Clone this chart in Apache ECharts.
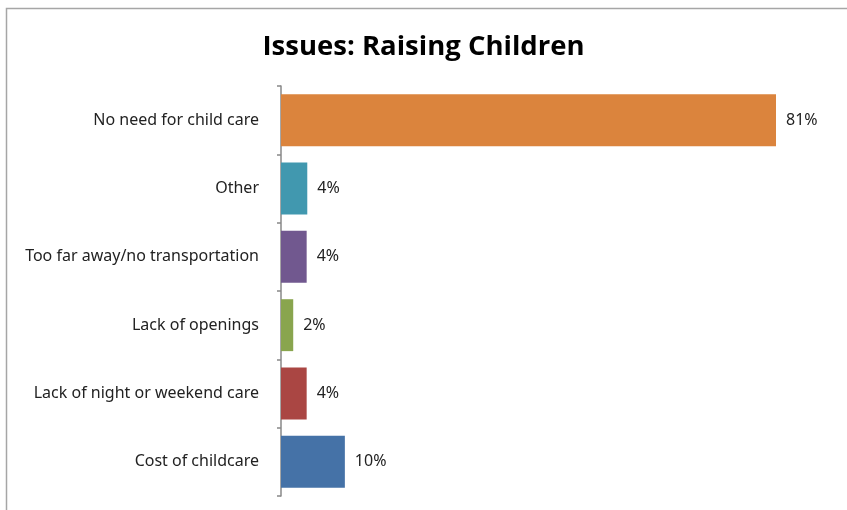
<!DOCTYPE html>
<html>
<head>
<meta charset="utf-8">
<script src="https://cdn.jsdelivr.net/npm/echarts@6/dist/echarts.min.js"></script>
<style>
  html, body { margin: 0; padding: 0; background: #fff; }
  #chart { width: 847px; height: 510px; }
</style>
</head>
<body>
<div id="chart"></div>
<script>
// categories bottom to top
var categories = [
  'Cost of childcare',
  'Lack of night or weekend care',
  'Lack of openings',
  'Too far away/no transportation',
  'Other',
  'No need for child care'
];
var values = [10.45, 4.2, 2.0, 4.2, 4.3, 81.0];
var barColors = ['#4572A7', '#AA4643', '#89A54E', '#71588F', '#4198AF', '#DB843D'];

var chart = echarts.init(document.getElementById('chart'));

chart.setOption({
  animation: false,
  backgroundColor: '#fff',
  title: {
    text: 'Issues: Raising Children',
    left: 'center',
    top: 28,
    textStyle: {
      fontFamily: 'Open Sans',
      fontWeight: 'bold',
      fontSize: 27.5,
      color: '#000'
    }
  },
  graphic: [{
    type: 'rect',
    shape: { x: 6.5, y: 8.5, width: 900, height: 600 },
    style: { fill: 'none', stroke: '#a6a6a6', lineWidth: 1.5 },
    silent: true
  }],
  grid: { left: 281, top: 86, bottom: 14, right: 16 },
  xAxis: {
    type: 'value',
    min: 0,
    max: 90,
    show: false
  },
  yAxis: {
    type: 'category',
    data: categories,
    axisLine: { show: true, lineStyle: { color: '#888', width: 1.5 } },
    axisTick: { show: true, length: 4, lineStyle: { color: '#888', width: 1.5 } },
    axisLabel: {
      margin: 22,
      fontFamily: 'Noto Sans',
      fontSize: 16,
      color: '#222'
    }
  },
  series: [{
    type: 'bar',
    barCategoryGap: '24%',
    data: values.map(function (v, i) {
      return { value: v, itemStyle: { color: barColors[i] } };
    }),
    label: {
      show: true,
      position: 'right',
      distance: 10,
      fontFamily: 'Noto Sans',
      fontSize: 16,
      color: '#222',
      formatter: function (p) { return Math.round(p.value) + '%'; }
    }
  }]
});
</script>
</body>
</html>
